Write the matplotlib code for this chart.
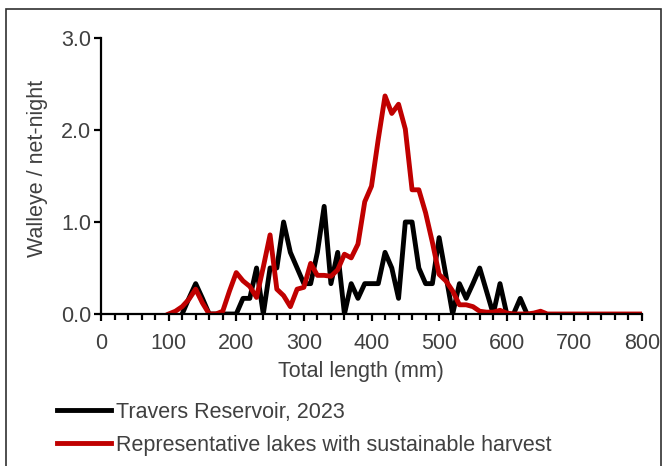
import matplotlib

matplotlib.use("Agg")
import matplotlib.pyplot as plt
from matplotlib.patches import Rectangle

plt.rcParams["font.family"] = ["Liberation Sans", "DejaVu Sans"]

# walleye catch per net-night by 10 mm length bin
length_mm = list(range(100, 810, 10))

representative = [
    0, 0.03, 0.08, 0.16, 0.27, 0.12, 0, 0, 0.03, 0.25,
    0.45, 0.36, 0.30, 0.18, 0.51, 0.86, 0.27, 0.20, 0.08, 0.27,
    0.29, 0.55, 0.42, 0.42, 0.41, 0.48, 0.65, 0.61, 0.76, 1.22,
    1.39, 1.90, 2.37, 2.18, 2.28, 2.01, 1.35, 1.35, 1.10, 0.78,
    0.43, 0.36, 0.25, 0.10, 0.10, 0.08, 0.03, 0.02, 0.02, 0.04,
    0.01, 0, 0, 0, 0.01, 0.03, 0, 0, 0, 0,
    0, 0, 0, 0, 0, 0, 0, 0, 0, 0,
    0,
]

travers_mm = list(range(120, 640, 10))
travers = [
    0, 0.17, 0.33, 0.17, 0, 0, 0, 0, 0,
    0.17, 0.17, 0.5, 0, 0.5, 0.5, 1.0, 0.67, 0.5, 0.33,
    0.33, 0.67, 1.17, 0.33, 0.67, 0, 0.33, 0.17, 0.33, 0.33,
    0.33, 0.67, 0.5, 0.17, 1.0, 1.0, 0.5, 0.33, 0.33, 0.83,
    0.42, 0, 0.33, 0.17, 0.33, 0.5, 0.25, 0, 0.33, 0,
    0, 0.17, 0,
]

series_labels = ["Travers Reservoir, 2023", "Representative lakes with sustainable harvest"]

W, H = 669, 466
fig = plt.figure(figsize=(W / 100, H / 100), dpi=100)
ax = fig.add_axes([101 / W, 1 - 314 / H, 541 / W, 276 / H])

text_color = "#404040"
fs = 15.5
line_black, = ax.plot(travers_mm, travers, color="black", lw=3.5,
                      solid_joinstyle="round", label=series_labels[0])
line_red, = ax.plot(length_mm, representative, color="#C00000", lw=3.5,
                    solid_joinstyle="round", label=series_labels[1])

ax.set_xlim(0, 800)
ax.set_ylim(0, 3.0)
ax.set_xticks(range(0, 801, 100))
ax.set_xticks(range(0, 801, 20), minor=True)
ax.set_yticks([0, 1, 2, 3])
ax.set_yticklabels(["0.0", "1.0", "2.0", "3.0"])

for side in ["top", "right"]:
    ax.spines[side].set_visible(False)
for side in ["left", "bottom"]:
    ax.spines[side].set_linewidth(1.6)
    ax.spines[side].set_color("black")

ax.tick_params(axis="both", which="major", direction="out", length=5, width=1.6,
               color="black", labelcolor=text_color, labelsize=fs)
ax.tick_params(axis="x", which="major", pad=9)
ax.tick_params(axis="y", which="major", pad=2)
ax.tick_params(axis="x", which="minor", direction="out", length=4, width=1.6,
               color="black")

fig.text(38 / W, 1 - 168 / H, "Walleye / net-night", rotation=90,
         ha="center", va="center", fontsize=fs, color=text_color)
fig.text(361 / W, 1 - 372 / H, "Total length (mm)",
         ha="center", va="center", fontsize=fs, color=text_color)

fig.legend(handles=[line_black, line_red], loc="upper left",
           bbox_to_anchor=(57 / W, 1 - 402 / H), frameon=False, fontsize=fs,
           handlelength=2.5, handletextpad=0.25, labelspacing=0.55,
           borderpad=0, borderaxespad=0, labelcolor=text_color)

# chart area border
fig.patches.append(Rectangle((6 / W, -0.05), 655 / W, 1.05 - 9 / H,
                             transform=fig.transFigure, fill=False,
                             edgecolor="#303030", lw=1.2))

fig.savefig("out.png", dpi=100)
